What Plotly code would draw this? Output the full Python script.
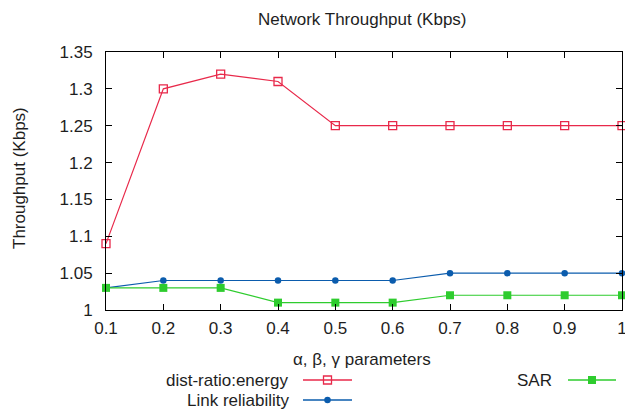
import plotly.graph_objects as go

# alpha/beta/gamma parameter sweep
params = [0.1, 0.2, 0.3, 0.4, 0.5, 0.6, 0.7, 0.8, 0.9, 1.0]
dist_ratio_energy = [1.09, 1.30, 1.32, 1.31, 1.25, 1.25, 1.25, 1.25, 1.25, 1.25]
link_reliability = [1.03, 1.04, 1.04, 1.04, 1.04, 1.04, 1.05, 1.05, 1.05, 1.05]
sar = [1.03, 1.03, 1.03, 1.01, 1.01, 1.01, 1.02, 1.02, 1.02, 1.02]

x_ticks = [0.1, 0.2, 0.3, 0.4, 0.5, 0.6, 0.7, 0.8, 0.9, 1.0]
x_tick_text = ["0.1", "0.2", "0.3", "0.4", "0.5", "0.6", "0.7", "0.8", "0.9", "1"]
y_ticks = [1.0, 1.05, 1.1, 1.15, 1.2, 1.25, 1.3, 1.35]
y_tick_text = ["1", "1.05", "1.1", "1.15", "1.2", "1.25", "1.3", "1.35"]

RED = "#e8294a"
BLUE = "#0b5cad"
GREEN = "#2ecc2e"
FONT = "Liberation Sans, Arial, sans-serif"
TXT = "#1e1e1e"
FS = 17

WIDTH, HEIGHT = 625, 411
# plot frame in pixels
LEFT, RIGHT, TOP, BOTTOM = 106, 622, 52, 310

series = [
    ("dist-ratio:energy", dist_ratio_energy, RED,
     dict(symbol="square-open", size=8, color=RED, line=dict(width=1.3, color=RED))),
    ("Link reliability", link_reliability, BLUE, dict(symbol="circle", size=6.5, color=BLUE)),
    ("SAR", sar, GREEN, dict(symbol="square", size=8, color=GREEN)),
]

fig = go.Figure()
for name, ys, color, marker in series:
    fig.add_trace(go.Scatter(
        x=params, y=ys, name=name, mode="lines+markers",
        line=dict(color=color, width=1.2), marker=marker,
        cliponaxis=False, showlegend=False,
    ))

# gnuplot-style key under the plot: label, then a line sample with its marker.
# Drawn on a hidden full-page axis pair measured in pixels.
key = [
    (series[0], 290, 380, 303, 352),
    (series[2], 554, 380, 568, 616),
    (series[1], 292, 400, 303, 352),
]
for (name, ys, color, marker), tx, ty, x0, x1 in key:
    fig.add_annotation(x=tx, y=ty, xref="x2", yref="y2", text=name,
                       showarrow=False, xanchor="right", yanchor="middle",
                       font=dict(family=FONT, size=FS, color=TXT))
    fig.add_trace(go.Scatter(
        x=[x0, x1], y=[ty, ty], xaxis="x2", yaxis="y2", mode="lines",
        line=dict(color=color, width=1.5), showlegend=False, hoverinfo="skip",
    ))
    fig.add_trace(go.Scatter(
        x=[(x0 + x1) / 2], y=[ty], xaxis="x2", yaxis="y2", mode="markers",
        marker=marker, showlegend=False, hoverinfo="skip", cliponaxis=False,
    ))

# title and axis titles
fig.add_annotation(x=362, y=19, xref="x2", yref="y2", text="Network Throughput (Kbps)",
                   showarrow=False, xanchor="center", yanchor="middle",
                   font=dict(family=FONT, size=FS, color=TXT))
fig.add_annotation(x=362, y=359, xref="x2", yref="y2", text="α, β, γ parameters",
                   showarrow=False, xanchor="center", yanchor="middle",
                   font=dict(family=FONT, size=FS, color=TXT))
fig.add_annotation(x=19, y=178, xref="x2", yref="y2", text="Throughput (Kbps)",
                   showarrow=False, xanchor="center", yanchor="middle", textangle=-90,
                   font=dict(family=FONT, size=FS, color=TXT))

axis_common = dict(
    ticks="inside", ticklen=6, tickcolor="black", tickwidth=1,
    showline=True, linecolor="black", linewidth=1, mirror="ticks",
    showgrid=False, zeroline=False, ticklabeloverflow="allow", automargin=False,
    tickfont=dict(family=FONT, size=FS, color=TXT),
)

fig.update_layout(
    width=WIDTH, height=HEIGHT,
    margin=dict(l=0, r=0, t=0, b=0, autoexpand=False),
    paper_bgcolor="white", plot_bgcolor="rgba(0,0,0,0)",
    font=dict(family=FONT, size=FS, color=TXT),
    xaxis=dict(
        domain=[LEFT / WIDTH, RIGHT / WIDTH], anchor="y",
        range=[0.1, 1.0], tickvals=x_ticks, ticktext=x_tick_text,
        ticklabelstandoff=3, **axis_common,
    ),
    yaxis=dict(
        domain=[(HEIGHT - BOTTOM) / HEIGHT, (HEIGHT - TOP) / HEIGHT], anchor="x",
        range=[1.0, 1.35], tickvals=y_ticks, ticktext=y_tick_text,
        ticklabelstandoff=9, **axis_common,
    ),
    xaxis2=dict(domain=[0, 1], range=[0, WIDTH], anchor="y2", visible=False),
    yaxis2=dict(domain=[0, 1], range=[HEIGHT, 0], anchor="x2", visible=False),
)

fig.write_html("out.html")
